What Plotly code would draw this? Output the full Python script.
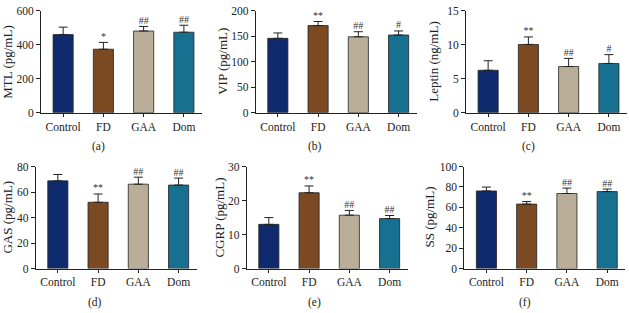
import plotly.graph_objects as go

categories = ["Control", "FD", "GAA", "Dom"]
colors = ["#0f2b6e", "#7b4a22", "#bbae98", "#17708f"]

mtl = [460, 374, 481, 474]
mtl_err = [44, 40, 27, 41]
mtl_sig = ["", "*", "##", "##"]

vip = [146, 171, 149, 152.5]
vip_err = [10.5, 8, 10, 8]
vip_sig = ["", "**", "##", "#"]

leptin = [6.25, 10.05, 6.8, 7.25]
leptin_err = [1.4, 1.1, 1.2, 1.3]
leptin_sig = ["", "**", "##", "#"]

gas = [68.8, 52.0, 66.2, 65.5]
gas_err = [5.0, 6.5, 5.5, 5.5]
gas_sig = ["", "**", "##", "##"]

cgrp = [13.0, 22.3, 15.7, 14.7]
cgrp_err = [2.0, 2.0, 1.4, 0.9]
cgrp_sig = ["", "**", "##", "##"]

ss = [76.1, 63.2, 73.6, 75.5]
ss_err = [3.8, 2.5, 5.3, 2.5]
ss_sig = ["", "**", "##", "##"]

panels = [
    ("MTL (pg/mL)", mtl, mtl_err, mtl_sig, [0, 200, 400, 600], "(a)"),
    ("VIP (pg/mL)", vip, vip_err, vip_sig, [0, 50, 100, 150, 200], "(b)"),
    ("Leptin (ng/mL)", leptin, leptin_err, leptin_sig, [0, 5, 10, 15], "(c)"),
    ("GAS (pg/mL)", gas, gas_err, gas_sig, [0, 20, 40, 60, 80], "(d)"),
    ("CGRP (pg/mL)", cgrp, cgrp_err, cgrp_sig, [0, 10, 20, 30], "(e)"),
    ("SS (pg/mL)", ss, ss_err, ss_sig, [0, 20, 40, 60, 80, 100], "(f)"),
]

W, H = 629, 313
xstarts = [41, 255.7, 466, 35.7, 246.7, 464.3]
title_x = [8, 223, 434, 8, 220, 430]
sub_x = [98, 315, 528, 95, 315, 525]
rows = [(5, 111, 146), (167, 273, 308)]
span = 161

FONT = "Liberation Serif"
fig = go.Figure()
layout = dict(
    width=W, height=H, margin=dict(l=0, r=0, t=0, b=0),
    paper_bgcolor="white", plot_bgcolor="white", showlegend=False,
    font=dict(family=FONT, color="#222"),
    annotations=[],
)

for i, (ytitle, vals, errs, sig, ticks, sub) in enumerate(panels):
    r = 0 if i < 3 else 1
    top, bot, suby = rows[r]
    xa = "x" if i == 0 else f"x{i+1}"
    ya = "y" if i == 0 else f"y{i+1}"
    fig.add_trace(go.Bar(
        x=categories, y=vals, xaxis=xa, yaxis=ya, width=0.5,
        marker=dict(color=colors, line=dict(color="#222", width=0.8)),
        error_y=dict(type="data", symmetric=False, array=errs,
                     arrayminus=[0] * 4, color="#222", thickness=1, width=4.5),
    ))
    fig.add_trace(go.Scatter(
        x=categories, y=[v + e for v, e in zip(vals, errs)], xaxis=xa, yaxis=ya,
        mode="text", text=sig, textposition="top center",
        textfont=dict(size=10, family=FONT, color="#333"), hoverinfo="skip",
    ))
    x0 = xstarts[i] / W
    x1 = min((xstarts[i] + span) / W, 1.0)
    key = "" if i == 0 else str(i + 1)
    layout["xaxis" + key] = dict(
        domain=[x0, x1], anchor=ya, range=[-0.55, 3.45],
        showline=True, linecolor="#222", linewidth=1,
        ticks="outside", ticklen=3, tickcolor="#222",
        tickfont=dict(size=11.5, family=FONT, color="#222"),
        showgrid=False, zeroline=False, fixedrange=True,
    )
    layout["yaxis" + key] = dict(
        domain=[1 - bot / H, 1 - top / H], anchor=xa,
        range=[0, ticks[-1]], tickvals=ticks,
        showline=True, linecolor="#222", linewidth=1,
        ticks="outside", ticklen=4, tickcolor="#222",
        tickfont=dict(size=11.5, family=FONT, color="#222"),
        showgrid=False, zeroline=False, fixedrange=True,
    )
    layout["annotations"].append(dict(
        text=ytitle, xref="paper", yref="paper", textangle=-90,
        x=title_x[i] / W, y=1 - ((top + bot) / 2) / H,
        xanchor="center", yanchor="middle", showarrow=False,
        font=dict(size=13, family=FONT, color="#222"),
    ))
    layout["annotations"].append(dict(
        text=sub, xref="paper", yref="paper",
        x=sub_x[i] / W, y=1 - suby / H,
        xanchor="center", yanchor="middle", showarrow=False,
        font=dict(size=11.5, family=FONT, color="#222"),
    ))

fig.update_layout(**layout)
fig.write_html(
    "out.html",
    config={"displayModeBar": False, "staticPlot": True},
    post_script="document.body.style.margin='0';document.body.style.overflow='hidden';",
)
